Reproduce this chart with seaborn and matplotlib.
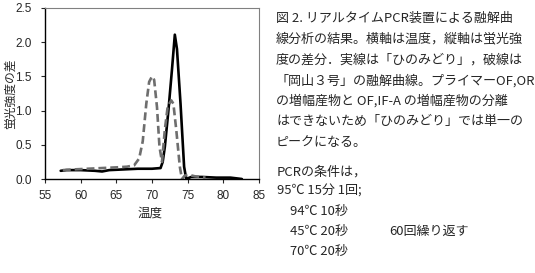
import matplotlib
matplotlib.use("Agg")
import matplotlib.pyplot as plt
import seaborn as sns
import pandas as pd
import numpy as np

# 実線: ひのみどり
hino_temp = [57.2, 58, 60, 62, 63, 64, 66, 68, 70, 71.2, 71.5, 71.8, 72.3, 72.8, 73.2,
             73.5, 74.0, 74.5, 74.8, 75.5, 77, 79, 81, 82.6]
hino_val = [0.12, 0.13, 0.13, 0.12, 0.11, 0.13, 0.14, 0.15, 0.15, 0.16, 0.25, 0.47, 1.0, 1.6, 2.11,
            1.9, 1.1, 0.18, 0.0, 0.03, 0.03, 0.02, 0.02, 0.0]

# 破線: 岡山3号
oka_temp = [57.5, 59, 61, 63, 65, 66.5, 67.5, 68.2, 68.7, 69.2, 69.6, 70.0, 70.3, 70.7, 71.05,
            71.4, 71.8, 72.2, 72.7, 73.0, 73.4, 73.9, 74.2, 74.6, 75.2, 76, 76.8, 77.5]
oka_val = [0.13, 0.14, 0.15, 0.16, 0.17, 0.18, 0.2, 0.3, 0.55, 1.1, 1.42, 1.5, 1.45, 1.05, 0.47,
           0.25, 0.72, 1.06, 1.15, 1.1, 0.72, 0.18, 0.0, 0.05, 0.06, 0.04, 0.03, 0.02]

x_ticks = [55, 60, 65, 70, 75, 80, 85]
y_ticks = [0.0, 0.5, 1.0, 1.5, 2.0, 2.5]
x_label = "温度"
y_label = "蛍光強度の差"

caption_lines = [
    "図 2. リアルタイムPCR装置による融解曲",
    "線分析の結果。横軸は温度，縦軸は蛍光強",
    "度の差分．実線は「ひのみどり」，破線は",
    "「岡山３号」の融解曲線。プライマーOF,OR",
    "の増幅産物と OF,IF-A の増幅産物の分離",
    "はできないため「ひのみどり」では単一の",
    "ピークになる。",
]
cond_lines = [
    "PCRの条件は，",
    "95℃ 15分 1回;",
    "94℃ 10秒",
    "45℃ 20秒",
    "70℃ 20秒",
]
repeat_text = "60回繰り返す"

sns.set_style("white")
plt.rcParams['font.family'] = ['Noto Sans CJK JP', 'DejaVu Sans']

W, H = 535, 273
fig = plt.figure(figsize=(W / 100, H / 100), dpi=100)
ax = fig.add_axes([45 / W, 1 - 179 / H, 214 / W, 171 / H])

df = pd.concat([
    pd.DataFrame({"t": hino_temp, "v": hino_val, "s": "ひのみどり"}),
    pd.DataFrame({"t": oka_temp, "v": oka_val, "s": "岡山3号"}),
])
sns.lineplot(data=df, x="t", y="v", hue="s", style="s",
             palette={"ひのみどり": "#000000", "岡山3号": "#6e6e6e"},
             dashes={"ひのみどり": "", "岡山3号": (3, 1.5)},
             linewidth=1.9, ax=ax, legend=False, sort=False, estimator=None)

ax.set_xlim(55, 85)
ax.set_ylim(0, 2.5)
ax.set_xticks(x_ticks)
ax.set_yticks(y_ticks)
ax.set_xticklabels([str(t) for t in x_ticks], family="Liberation Sans", fontsize=8.5)
ax.set_yticklabels([f"{t:.1f}" for t in y_ticks], family="Liberation Sans", fontsize=8.5)
ax.tick_params(axis="y", direction="out", length=3, width=0.8, pad=6.5, left=True)
ax.tick_params(axis="x", direction="out", length=3, width=0.8, pad=5, bottom=True)
ax.set_xlabel(x_label, fontsize=9)
ax.set_ylabel(y_label, fontsize=8.5)
ax.xaxis.set_label_coords(105 / 214, -(213 - 179) / 171)
ax.yaxis.set_label_coords(-(45 - 10) / 214, 0.5)
ax.xaxis.label.set_va("center")
ax.yaxis.label.set_va("center")
for side in ["left", "bottom"]:
    ax.spines[side].set_color("black")
    ax.spines[side].set_linewidth(1.0)
for side in ["top", "right"]:
    ax.spines[side].set_color("#808080")
    ax.spines[side].set_linewidth(0.8)

FS = 9.4
y0 = 18
for i, line in enumerate(caption_lines):
    fig.text(276 / W, 1 - (y0 + i * 20.8) / H, line, fontsize=FS, va="center", ha="left")

cy = [172, 191, 211, 231, 251]
cx = [277, 277, 290, 290, 290]
for line, y, x in zip(cond_lines, cy, cx):
    fig.text(x / W, 1 - y / H, line, fontsize=FS, va="center", ha="left")
fig.text(389 / W, 1 - 231 / H, repeat_text, fontsize=FS, va="center", ha="left")

fig.savefig("out.png", dpi=100, facecolor="white")
